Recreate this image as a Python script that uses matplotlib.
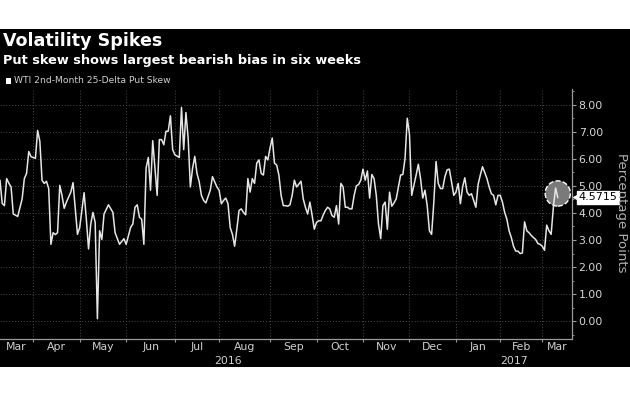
import matplotlib
matplotlib.use('Agg')
import matplotlib.pyplot as plt
from matplotlib.patches import Rectangle
from matplotlib.transforms import blended_transform_factory
import pandas as pd

# trading day number (0 = 10 Mar 2016) and the put skew
day = [0, 1, 2, 3, 4, 5, 6, 8, 10, 11, 12, 13, 14, 16, 17, 18, 19, 20, 21, 22,
       23, 24, 25, 26, 27, 28, 29, 30, 32, 33, 34, 35, 36, 38, 39, 40, 41, 42, 43, 44,
       45, 46, 47, 49, 51, 52, 54, 56, 57, 59, 60, 61, 62, 63, 64, 65, 66, 67, 68, 69,
       71, 72, 73, 74, 75, 76, 77, 78, 79, 81, 82, 83, 84, 85, 86, 87, 88, 89, 90, 91,
       92, 93, 95, 96, 98, 99, 100, 101, 102, 103, 104, 105, 106, 107, 108, 109, 110, 111, 112, 113,
       114, 115, 116, 117, 118, 119, 120, 121, 122, 123, 124, 125, 126, 127, 128, 129, 130, 131, 132, 133,
       134, 136, 137, 138, 139, 140, 141, 142, 143, 144, 145, 146, 147, 148, 149, 150, 151, 152, 153, 154,
       155, 156, 157, 158, 159, 160, 161, 162, 163, 164, 165, 166, 167, 168, 169, 170, 171, 172, 173, 174,
       175, 176, 177, 178, 179, 180, 181, 182, 183, 184, 185, 186, 187, 188, 189, 190, 191, 192, 193, 194,
       195, 196, 197, 198, 199, 200, 201, 202, 203, 204, 205, 206, 207, 208, 209, 210, 211, 212, 213, 214,
       215, 216, 217, 218, 220, 221, 222, 223, 224, 225, 226, 227, 228, 229, 230, 231, 232, 233, 234, 235,
       236, 237, 238, 239, 240, 241, 242, 243, 244, 245, 246, 247, 248, 249, 250, 251, 252]
skew = [5.2, 4.35, 4.27, 5.27, 5.1, 4.96, 3.96, 3.87, 4.52, 5.27, 5.46, 6.27, 6.08, 6.02, 7.05, 6.65, 5.2, 5.09, 5.17, 4.9,
        2.84, 3.27, 3.2, 3.27, 5.02, 4.65, 4.17, 4.4, 4.77, 5.12, 4.15, 3.21, 3.46, 4.75, 3.77, 2.67, 3.59, 4.02, 3.65, 0.09,
        3.34, 3.02, 3.96, 4.3, 4.02, 3.27, 2.84, 3.05, 2.84, 3.46, 3.59, 4.21, 4.3, 3.84, 3.77, 2.84, 5.65, 6.05, 4.84, 6.67,
        4.65, 6.71, 6.71, 6.52, 7.02, 7.02, 7.59, 6.34, 6.15, 6.05, 7.9, 6.34, 7.71, 6.77, 4.96, 5.65, 6.09, 5.46, 5.15, 4.65,
        4.46, 4.37, 4.84, 5.34, 4.96, 4.84, 4.34, 4.46, 4.55, 4.34, 3.46, 3.21, 2.77, 3.4, 4.09, 4.15, 4.02, 3.93, 5.27, 4.77,
        5.27, 5.09, 5.84, 5.96, 5.46, 5.4, 6.09, 5.96, 6.4, 6.77, 5.84, 5.77, 5.4, 4.65, 4.27, 4.27, 4.25, 4.3, 4.65, 5.21,
        4.96, 5.17, 4.52, 4.21, 3.96, 4.4, 3.92, 3.4, 3.65, 3.71, 3.71, 3.92, 4.09, 4.21, 4.15, 3.9, 3.84, 4.27, 3.59, 5.09,
        4.96, 4.21, 4.21, 4.15, 4.15, 4.65, 5.0, 5.05, 5.21, 5.62, 5.21, 5.55, 4.55, 5.42, 5.27, 4.65, 3.59, 3.05, 4.27, 4.4,
        3.4, 4.77, 4.25, 4.37, 4.52, 4.96, 5.4, 5.42, 6.02, 7.5, 6.9, 4.65, 5.02, 5.4, 5.8, 5.27, 4.55, 4.84, 4.27, 3.34,
        3.21, 4.4, 5.9, 5.09, 4.9, 4.9, 5.34, 5.59, 5.62, 5.15, 4.65, 4.77, 5.09, 4.34, 4.96, 5.3, 4.77, 4.65, 4.71, 4.46,
        4.21, 5.05, 5.4, 5.71, 5.27, 4.96, 4.71, 4.65, 4.3, 4.65, 4.65, 4.4, 4.02, 3.77, 3.34, 3.09, 2.77, 2.59, 2.59, 2.5,
        2.52, 3.67, 3.34, 3.27, 3.17, 3.09, 3.02, 2.87, 2.84, 2.77, 2.62, 3.55, 3.34, 3.21, 4.2, 4.92, 4.5715]

last_value = 4.5715

# US market holidays inside the range (the chart skips non trading days)
holidays = ['2016-03-25', '2016-05-30', '2016-07-04', '2016-09-05', '2016-11-24',
            '2016-12-26', '2017-01-02', '2017-01-16', '2017-02-20']
trading_days = pd.bdate_range('2016-03-10', '2017-03-31', freq='C', holidays=holidays)

x_max = 258.3

# first trading day of every month -> gridline positions
months = pd.Series(range(len(trading_days)), index=trading_days)
month_start = months.groupby([trading_days.year, trading_days.month]).min()
starts = list(month_start.values)
month_names = [pd.Timestamp(year=y, month=m, day=1).strftime('%b') for y, m in month_start.index]

fig = plt.figure(figsize=(6.3, 3.99), dpi=100)
fig.patch.set_facecolor('white')
fig.add_artist(Rectangle((0, 0.079), 1, 0.848, transform=fig.transFigure,
                         facecolor='black', edgecolor='none', zorder=0))

fig.text(0.004, 0.884, 'Volatility Spikes', color='white', fontsize=12.6,
         fontweight='bold', va='baseline')
fig.text(0.004, 0.840, 'Put skew shows largest bearish bias in six weeks', color='white',
         fontsize=9.3, fontweight='bold', va='baseline')
fig.add_artist(Rectangle((0.0095, 0.79), 0.0085, 0.0135, transform=fig.transFigure,
                         facecolor='white', edgecolor='none'))
fig.text(0.022, 0.797, 'WTI 2nd-Month 25-Delta Put Skew', color='#d0d0d0',
         fontsize=6.6, va='center')

ax = fig.add_axes([0, 0.1496, 0.9075, 0.628])
ax.set_facecolor('black')
ax.plot(day, skew, color='#e6e6e6', lw=1.1, zorder=3)

ax.set_xlim(0, x_max)
ax.set_ylim(-0.67, 8.59)

# right hand value axis
ax.yaxis.tick_right()
ax.set_yticks(range(0, 9))
ax.set_yticklabels(['%.2f' % v for v in range(0, 9)])
ax.set_yticks([v + 0.5 for v in range(-1, 9)], minor=True)
ax.tick_params(axis='y', which='major', colors='#9a9a9a', labelcolor='#d8d8d8',
               labelsize=7.8, length=3, width=0.8, pad=2)
ax.tick_params(axis='y', which='minor', colors='#9a9a9a', length=1.5, width=0.6)

# months along the bottom
ax.set_xticks([s for s in starts if 0 < s < x_max])
ax.set_xticklabels([])
ax.tick_params(axis='x', colors='#9a9a9a', length=2.5, width=0.8)

for s in ['top', 'left']:
    ax.spines[s].set_visible(False)
for s in ['right', 'bottom']:
    ax.spines[s].set_color('#9a9a9a')
    ax.spines[s].set_linewidth(0.9)

ax.grid(True, color='#4a4a4a', linestyle=(0, (1, 2)), linewidth=0.7)
ax.set_axisbelow(True)

tr = blended_transform_factory(ax.transData, ax.transAxes)
edges = starts + [x_max]
for i, name in enumerate(month_names):
    left = max(edges[i], 0)
    right = min(edges[i + 1], x_max)
    if right <= left:
        continue
    ax.text((left + right) / 2, -0.032, name, transform=tr, ha='center', va='center',
            color='#d0d0d0', fontsize=7.8)

jan = month_names.index('Jan')
ax.text(starts[jan] / 2, -0.088, '2016', transform=tr, ha='center', va='center',
        color='#d0d0d0', fontsize=7.8)
ax.text((starts[jan] + x_max) / 2, -0.088, '2017', transform=tr, ha='center', va='center',
        color='#d0d0d0', fontsize=7.8)

# highlight of the latest reading
ax.scatter([day[-1]], [4.72], s=330, facecolor='#7a7a7a', edgecolor='white',
           linewidth=1.0, linestyle='--', zorder=2)

tr_y = blended_transform_factory(ax.transAxes, ax.transData)
ax.text(1.012, last_value, '%.4f' % last_value, transform=tr_y, ha='left', va='center',
        fontsize=8, color='black', clip_on=False,
        bbox=dict(boxstyle='square,pad=0.12', facecolor='white', edgecolor='white'))
ax.plot([1.007], [last_value], marker='<', color='white', markersize=5,
        transform=tr_y, clip_on=False)

fig.text(0.986, 0.466, 'Percentage Points', rotation=270, ha='center', va='center',
         color='#b0b0b0', fontsize=9.5)

fig.savefig('out.png', dpi=100, facecolor=fig.get_facecolor())
